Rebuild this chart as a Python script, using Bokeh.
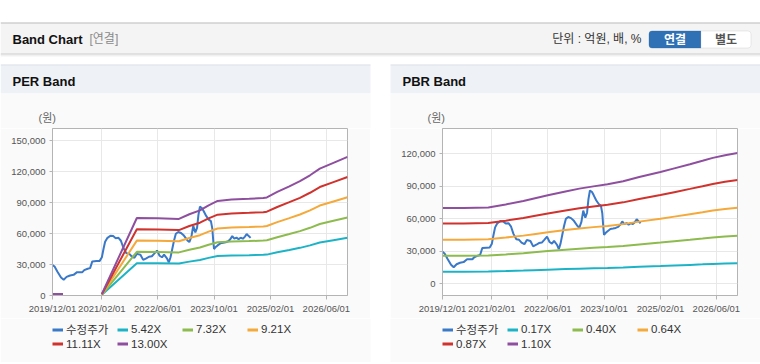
import numpy as np
import pandas as pd
from bokeh.plotting import figure
from bokeh.layouts import column, row
from bokeh.models import (Range1d, FixedTicker, NumeralTickFormatter, DatetimeTickFormatter,
                          Legend, LegendItem, Label, BoxAnnotation, Span)
from bokeh.embed import file_html
from bokeh.resources import INLINE

FONT = "Liberation Sans, Noto Sans CJK KR, sans-serif"

# ---------------- data ----------------
price_dates = ["2019-12-01", "2019-12-19", "2020-01-13", "2020-02-13", "2020-03-07", "2020-04-01",
               "2020-05-01", "2020-06-01", "2020-07-01", "2020-08-16", "2020-09-01", "2020-10-01",
               "2020-10-22", "2020-11-10", "2020-12-16", "2021-01-13", "2021-02-01", "2021-02-15",
               "2021-03-01", "2021-03-19", "2021-04-16", "2021-05-10", "2021-06-01", "2021-06-25",
               "2021-07-16", "2021-08-07", "2021-09-01", "2021-09-25", "2021-10-16", "2021-11-10",
               "2021-12-01", "2022-01-01", "2022-01-25", "2022-02-21", "2022-03-16", "2022-04-10",
               "2022-05-01", "2022-05-25", "2022-06-16", "2022-07-07", "2022-07-25", "2022-08-19",
               "2022-09-04", "2022-09-19", "2022-10-04", "2022-10-19", "2022-11-04", "2022-11-25",
               "2022-12-19", "2023-01-13", "2023-02-13", "2023-03-01", "2023-03-19", "2023-04-04",
               "2023-04-22", "2023-05-07", "2023-05-19", "2023-06-01", "2023-06-19", "2023-07-04",
               "2023-07-25", "2023-08-16", "2023-09-04", "2023-09-16", "2023-09-25", "2023-10-01",
               "2023-10-16", "2023-11-01", "2023-11-25", "2023-12-19", "2024-01-10", "2024-02-01",
               "2024-02-19", "2024-03-07", "2024-03-25", "2024-04-13", "2024-05-01", "2024-05-19",
               "2024-06-07", "2024-06-25", "2024-07-10", "2024-07-28", "2024-08-13"]
price_values = [29500, 28000, 23000, 17500, 15300, 18000,
                19400, 20000, 22600, 22600, 24500, 25900,
                26500, 33000, 33300, 33500, 37000, 45000,
                52000, 55500, 57800, 57500, 55500, 55800,
                53000, 46000, 41000, 40500, 38000, 36500,
                40300, 39500, 34500, 36000, 37500, 38000,
                40500, 43500, 38500, 37000, 39500, 36000,
                32000, 37000, 45000, 53000, 59800, 61500,
                60500, 58000, 53300, 51700, 57000, 67500,
                61000, 65500, 78000, 86000, 84500, 81500,
                77000, 73500, 72000, 65000, 52000, 45000,
                47000, 48500, 50500, 51000, 51500, 52500,
                54500, 57500, 55000, 56000, 54500, 55900,
                55000, 57000, 59500, 57500, 55800]

nan = float("nan")
per_dates = ["2019-12-01", "2020-01-01", "2020-02-01", "2020-03-01", "2020-04-01",
             "2021-02-01", "2021-12-01", "2022-06-01", "2022-12-01", "2023-03-01", "2023-06-01",
             "2023-08-15", "2023-11-01", "2024-03-01", "2024-08-01", "2024-12-01", "2025-01-01",
             "2025-04-01", "2025-07-15", "2025-10-15", "2026-01-10", "2026-04-05", "2026-08-01",
             "2026-12-01"]
per_542 = [620, 620, 620, 620, nan, 620, 31270, 31170, 30890, 32790, 34360, 36400, 38160, 38700,
           39020, 39350, 39570, 41790, 44060, 46120, 48510, 51220, 53550, 55930]
per_732 = [840, 840, 840, 840, nan, 840, 42230, 42090, 41720, 44290, 46410, 49150, 51530, 52270,
           52700, 53140, 53440, 56440, 59510, 62290, 65510, 69170, 72320, 75540]
per_921 = [1060, 1060, 1060, 1060, nan, 1060, 53130, 52960, 52500, 55720, 58390, 61850, 64840, 65760,
           66310, 66870, 67230, 71010, 74880, 78380, 82430, 87040, 91000, 95050]
per_1111 = [1280, 1280, 1280, 1280, nan, 1280, 64090, 63880, 63330, 67220, 70440, 74600, 78210, 79330,
            79990, 80660, 81100, 85660, 90320, 94550, 99440, 104990, 109770, 114660]
per_1300 = [1500, 1500, 1500, 1500, nan, 1500, 75000, 74750, 74100, 78650, 82420, 87300, 91520, 92820,
            93600, 94380, 94900, 100230, 105690, 110630, 116350, 122850, 128440, 134160]

pbr_dates = ["2019-12-01", "2020-06-01", "2021-01-01", "2021-06-01", "2021-11-01", "2022-02-01",
             "2022-06-01", "2022-11-01", "2023-03-01", "2023-07-01", "2023-11-01", "2024-03-15",
             "2024-08-01", "2025-02-01", "2025-06-01", "2025-10-15", "2026-02-01", "2026-05-01",
             "2026-08-15", "2026-12-01"]
pbr_017 = [11190, 11200, 11280, 11710, 12190, 12560, 13000, 13540, 13950, 14270, 14570, 15010,
           15620, 16320, 16840, 17430, 17910, 18330, 18710, 19040]
pbr_040 = [25880, 25900, 26100, 27100, 28240, 29100, 30140, 31420, 32390, 33140, 33840, 34860,
           36300, 37960, 39180, 40570, 41700, 42680, 43580, 44360]
pbr_064 = [40610, 40640, 40960, 42560, 44390, 45760, 47420, 49470, 51030, 52220, 53350, 54980,
           57280, 59930, 61890, 64120, 65920, 67490, 68930, 70170]
pbr_087 = [55500, 55550, 55980, 58160, 60640, 62510, 64760, 67550, 69670, 71290, 72820, 75040,
           78170, 81770, 84430, 87460, 89910, 92040, 94000, 95690]
pbr_110 = [69800, 69850, 70400, 73150, 76300, 78650, 81500, 85030, 87700, 89760, 91700, 94500,
           98450, 103000, 106370, 110200, 113300, 116000, 118470, 120600]

x_tick_dates = ["2019-12-01", "2021-02-01", "2022-06-01", "2023-10-01", "2025-02-01", "2026-06-01"]
x_start, x_end = "2019-12-01", "2026-12-01"
per_yticks = [0, 30000, 60000, 90000, 120000, 150000]
pbr_yticks = [0, 30000, 60000, 90000, 120000]
per_names = ["수정주가", "5.42X", "7.32X", "9.21X", "11.11X", "13.00X"]
pbr_names = ["수정주가", "0.17X", "0.40X", "0.64X", "0.87X", "1.10X"]
colors = ["#3a78c8", "#1db3c6", "#8dbb4e", "#f4a93a", "#d0322d", "#8f4f9f"]

# ---------------- helpers ----------------
def pix_fig(w, h, bg):
    f = figure(width=w, height=h, x_range=Range1d(0, w), y_range=Range1d(h, 0),
               x_axis_location=None, y_axis_location=None, min_border=0,
               outline_line_color=None, toolbar_location=None, output_backend="svg",
               background_fill_color=bg, border_fill_color=bg)
    f.grid.visible = False
    return f


def box(f, l, r, t, b, color):
    f.add_layout(BoxAnnotation(left=l, right=r, top=t, bottom=b, fill_color=color,
                               fill_alpha=1, line_color=None, level="underlay"))


def ms(d):
    return pd.Timestamp(d).value // 10**6


def band_chart(ylo, yhi, yticks, sdates, svals, bdates, bands):
    p = figure(width=370, height=190, x_axis_type="datetime",
               x_range=Range1d(pd.Timestamp(x_start), pd.Timestamp(x_end)),
               y_range=Range1d(ylo, yhi), output_backend="svg", toolbar_location=None,
               min_border_left=52, min_border_right=23, min_border_top=0, min_border_bottom=23,
               background_fill_color="#ffffff", border_fill_color="#fafafa",
               outline_line_color="#b4b4b4")
    p.xaxis.ticker = FixedTicker(ticks=[ms(d) for d in x_tick_dates])
    p.xaxis.formatter = DatetimeTickFormatter(days="%Y/%m/%d", months="%Y/%m/%d", years="%Y/%m/%d")
    p.yaxis.ticker = FixedTicker(ticks=yticks)
    p.yaxis.formatter = NumeralTickFormatter(format="0,0")
    for ax in (p.xaxis, p.yaxis):
        ax.axis_line_color = "#b4b4b4"
        ax.major_tick_line_color = "#b4b4b4"
        ax.minor_tick_line_color = None
        ax.major_tick_in = 0
        ax.major_label_text_font = FONT
        ax.major_label_text_font_size = "9.5px"
        ax.major_label_text_color = "#555555"
    p.xaxis.major_tick_out = 4
    p.xaxis.major_label_standoff = 3
    p.yaxis.major_tick_out = 3
    p.yaxis.major_label_standoff = 4
    p.grid.grid_line_color = "#e8e8e8"

    p.line(x=pd.to_datetime(sdates), y=svals, line_color=colors[0], line_width=2)
    bx = pd.to_datetime(bdates)
    for i, vals in enumerate(bands):
        p.line(x=bx, y=np.array(vals, dtype=float), line_color=colors[i + 1], line_width=2)
    return p

# ---------------- header, panel title bars, unit labels ----------------
hdr = pix_fig(760, 128, "#ffffff")
box(hdr, 0, 760, 23, 53, "#f4f4f4")
hdr.add_layout(Span(location=22.5, dimension="width", line_color="#b8b8b8", line_width=1))
hdr.add_layout(Span(location=53.5, dimension="width", line_color="#c6c6c6", line_width=1))
hdr.add_layout(Span(location=54.5, dimension="width", line_color="#e2e2e2", line_width=1))
hdr.add_layout(Span(location=55.5, dimension="width", line_color="#f1f1f1", line_width=1))
for (l, r) in [(0, 370), (390, 760)]:
    box(hdr, l, r, 64, 93, "#eef2f7")
    box(hdr, l, r, 64, 65, "#dde2ea")
    box(hdr, l, r, 93, 128, "#fafafa")
hdr.add_layout(Label(x=12, y=38.5, text="Band Chart", text_baseline="middle", text_font=FONT,
                     text_font_style="bold", text_font_size="13px", text_color="#111111"))
hdr.add_layout(Label(x=89, y=38.5, text="[연결]", text_baseline="middle", text_font=FONT,
                     text_font_size="12px", text_color="#8a8a8a"))
hdr.add_layout(Label(x=641, y=38.5, text="단위 : 억원, 배, %", text_baseline="middle", text_align="right",
                     text_font=FONT, text_font_size="12px", text_color="#333333"))
hdr.add_layout(BoxAnnotation(left=648.5, right=700.5, top=30.5, bottom=47.5, fill_color="#3071b5",
                             fill_alpha=1, line_color="#2a62a0", border_radius=(3, 0, 0, 3)))
hdr.add_layout(BoxAnnotation(left=700.5, right=750.5, top=30.5, bottom=47.5, fill_color="#ffffff",
                             fill_alpha=1, line_color="#bdbdbd", border_radius=(0, 3, 3, 0)))
hdr.add_layout(Label(x=674.5, y=39.5, text="연결", text_baseline="middle", text_align="center",
                     text_font=FONT, text_font_style="bold", text_font_size="12px",
                     text_color="#ffffff"))
hdr.add_layout(Label(x=725.5, y=39.5, text="별도", text_baseline="middle", text_align="center",
                     text_font=FONT, text_font_style="bold", text_font_size="12px",
                     text_color="#555555"))
hdr.add_layout(Label(x=12, y=80.5, text="PER Band", text_baseline="middle", text_font=FONT,
                     text_font_style="bold", text_font_size="13px", text_color="#111111"))
hdr.add_layout(Label(x=402, y=80.5, text="PBR Band", text_baseline="middle", text_font=FONT,
                     text_font_style="bold", text_font_size="13px", text_color="#111111"))
for ux in (38, 427):
    hdr.add_layout(Label(x=ux, y=117, text="(원)", text_baseline="middle", text_font=FONT,
                         text_font_size="11px", text_color="#666666"))

# ---------------- charts ----------------
per_chart = band_chart(0, 161640, per_yticks, price_dates, price_values,
                       per_dates, [per_542, per_732, per_921, per_1111, per_1300])
pbr_chart = band_chart(-10770, 143080, pbr_yticks, price_dates, price_values,
                       pbr_dates, [pbr_017, pbr_040, pbr_064, pbr_087, pbr_110])

# ---------------- legends strip ----------------
leg_fig = pix_fig(760, 44, "#ffffff")
for (l, r) in [(0, 370), (390, 760)]:
    box(leg_fig, l, r, 0, 44, "#fafafa")
for names, lx in [(per_names, 52), (pbr_names, 442)]:
    keys = [leg_fig.line(x=[nan, nan], y=[nan, nan], line_color=c, line_width=3) for c in colors]
    leg = Legend(items=[LegendItem(label=n, renderers=[k]) for n, k in zip(names, keys)],
                 location=(lx, 12), orientation="horizontal", ncols=4,
                 glyph_width=11, glyph_height=13, label_height=13, label_width=51,
                 label_standoff=3, spacing=0, padding=0, margin=0,
                 border_line_color=None, background_fill_alpha=0,
                 label_text_font=FONT, label_text_font_size="11.5px", label_text_color="#333333")
    leg_fig.add_layout(leg)

foot = pix_fig(760, 2, "#ffffff")
for (l, r) in [(0, 370), (390, 760)]:
    box(foot, l, r, 0, 1, "#dadada")

p = column(hdr, row(per_chart, pbr_chart, spacing=20), leg_fig, foot, spacing=0)

open("out.html", "w").write(file_html(p, INLINE))
